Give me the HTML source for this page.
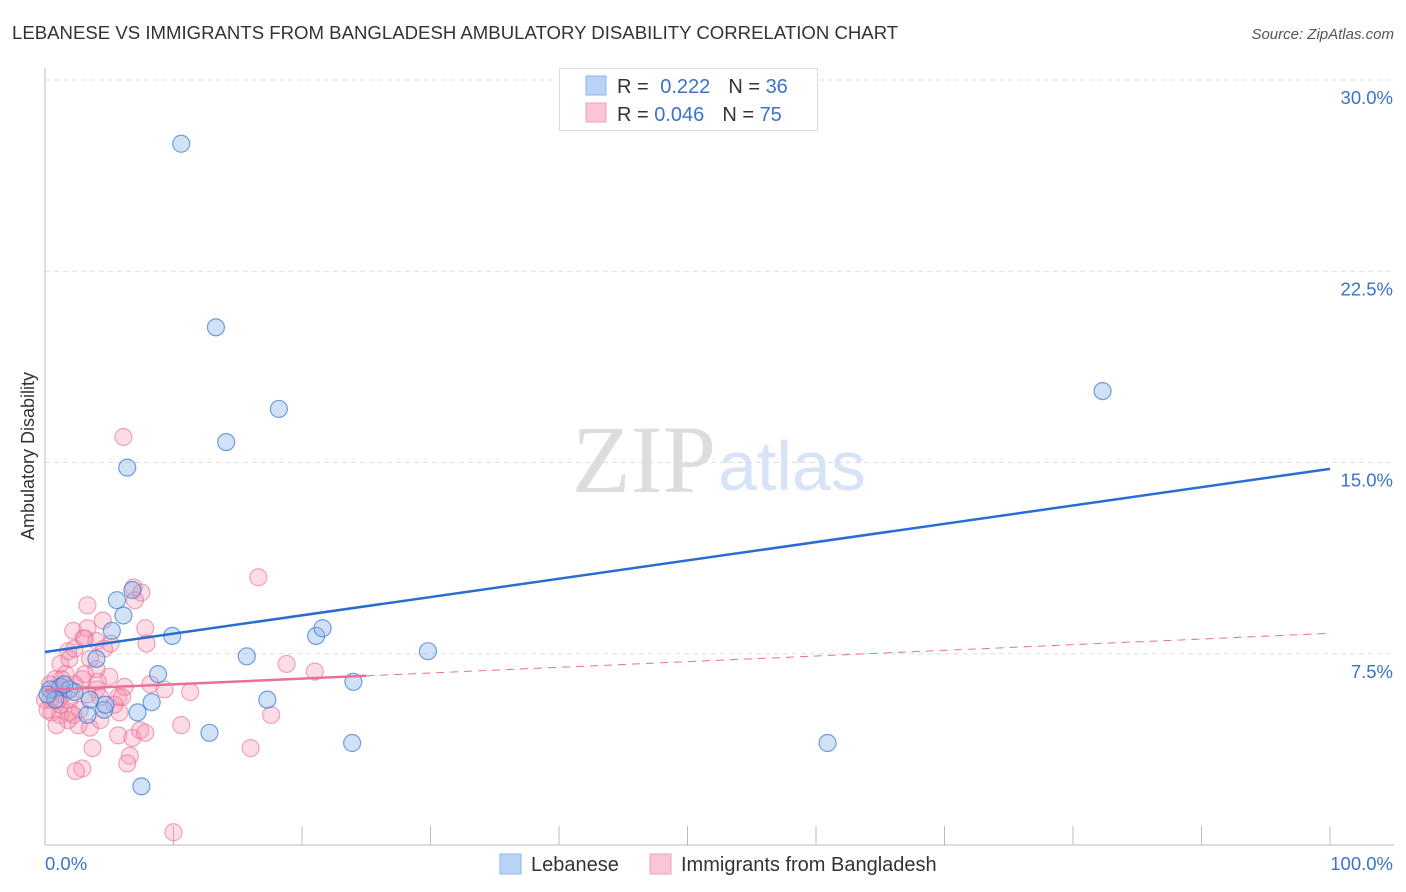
<!DOCTYPE html>
<html><head><meta charset="utf-8"><style>
body{margin:0;background:#fff;font-family:"Liberation Sans",sans-serif}
svg{display:block}
</style></head><body>
<svg id="chart" width="1406" height="892" xmlns="http://www.w3.org/2000/svg">
<text x="12" y="39" font-size="18.6" fill="#333">LEBANESE VS IMMIGRANTS FROM BANGLADESH AMBULATORY DISABILITY CORRELATION CHART</text>
<text x="1394" y="39" font-size="15" fill="#555" font-style="italic" text-anchor="end">Source: ZipAtlas.com</text>
<text x="716" y="492" font-size="96" fill="#ddd" text-anchor="end" font-family="Liberation Serif,serif">ZIP</text>
<text x="718" y="490" font-size="70" fill="#d6e4f5">atlas</text>
<g id="grid"></g>
<g id="axes"></g>
<g id="pts"></g>
<g id="lines"></g>
<text transform="translate(34,456) rotate(-90)" font-size="18" fill="#333" text-anchor="middle">Ambulatory Disability</text>
<g>
<rect x="559.5" y="68.5" width="258" height="62" fill="#fff" stroke="#ddd"/>
<rect x="586" y="76" width="20" height="19" fill="#b8d3f5" stroke="#8fb6e8"/>
<rect x="586" y="103" width="20" height="19" fill="#fac6d5" stroke="#f0a3b8"/>
<text x="617" y="93" font-size="20" fill="#333">R = <tspan fill="#3b73c9" dx="6">0.222</tspan><tspan dx="18" fill="#333">N = </tspan><tspan fill="#3b73c9">36</tspan></text>
<text x="617" y="121" font-size="20" fill="#333">R = <tspan fill="#3b73c9">0.046</tspan><tspan dx="18" fill="#333">N = </tspan><tspan fill="#3b73c9">75</tspan></text>
</g>
<g>
<rect x="500" y="854" width="21" height="20" fill="#b8d3f5" stroke="#8fb6e8"/>
<text x="531" y="871" font-size="20" fill="#333">Lebanese</text>
<rect x="650" y="854" width="21" height="20" fill="#fac6d5" stroke="#f0a3b8"/>
<text x="681" y="871" font-size="20" fill="#333">Immigrants from Bangladesh</text>
</g>
</svg>
<script>
const yTicks=[7.5,15,22.5,30];
const yTickLabels=["7.5%","15.0%","22.5%","30.0%"];
const xTicks=[0,10,20,30,40,50,60,70,80,90,100];
const lebX=[10.6,13.3,18.2,14.1,6.4,82.3,6.8,5.6,6.1,5.2,9.9,21.1,21.6,4.0,8.8,15.7,29.8,24.0,17.3,8.3,7.2,4.6,3.3,1.2,0.4,1.9,12.8,23.9,60.9,7.5,2.3,3.5,0.8,1.5,0.2,4.7];
const lebY=[27.5,20.3,17.1,15.8,14.8,17.8,10.0,9.6,9.0,8.4,8.2,8.2,8.5,7.3,6.7,7.4,7.6,6.4,5.7,5.6,5.2,5.3,5.1,6.2,6.1,6.1,4.4,4.0,4.0,2.3,6.0,5.7,5.7,6.3,5.9,5.5];
const banX=[6.1,16.6,6.9,7.5,3.3,4.5,7.8,2.2,3.3,3.0,4.0,4.6,1.8,1.2,1.9,18.8,21.0,0.8,2.9,2.3,4.0,8.2,9.3,11.3,6.2,5.7,4.3,1.4,0.4,0.5,1.2,1.9,2.6,1.8,3.5,5.8,10.6,17.6,5.7,6.8,3.7,6.6,6.4,16.0,2.9,2.4,10.0,7.9,5.0,3.1,1.2,0.0,0.8,1.6,3.5,1.9,2.7,5.4,4.3,0.2,1.0,4.1,3.3,7.4,1.3,4.0,2.3,5.1,7.8,0.4,7.0,3.1,2.2,0.9,6.0];
const banY=[16.0,10.5,10.1,9.9,9.4,8.8,8.5,8.4,8.5,8.1,8.0,7.7,7.6,7.1,7.3,7.1,6.8,6.5,6.5,6.3,6.1,6.3,6.1,6.0,6.2,5.8,5.8,5.9,5.7,5.2,5.1,5.2,4.7,4.9,4.6,5.2,4.7,5.1,4.3,4.2,3.8,3.5,3.2,3.8,3.0,2.9,0.5,7.9,6.6,6.7,5.5,5.7,6.1,6.7,7.3,5.7,5.3,5.5,4.9,5.3,5.7,6.4,5.9,4.5,6.5,6.9,7.7,7.9,4.4,6.3,9.6,8.1,5.1,4.7,5.8];
const blueLine=[7.57,14.75];
const pinkLine=[6.08,8.3];
const pinkSolidEnd=25;
const NS="http://www.w3.org/2000/svg";
const X0=45,X1=1330,Y0=845,YP=25.5;
const sx=v=>X0+(X1-X0)*v/100;
const sy=v=>Y0-v*YP;
function mk(tag,attrs,parent){const e=document.createElementNS(NS,tag);for(const k in attrs)e.setAttribute(k,attrs[k]);document.getElementById(parent).appendChild(e);return e;}
yTicks.forEach((t,i)=>{
 const g=mk('line',{x1:X0,x2:1394,y1:sy(t),y2:sy(t),stroke:'#ddd','stroke-dasharray':'5,4'},'grid');
 
 
 const l=mk('text',{x:1393,y:sy(t)+24,'font-size':18.5,fill:'#3b73c9','text-anchor':'end'},'grid');
 l.textContent=yTickLabels[i];
 
 
});
const ax=mk('line',{x1:X0,x2:X0,y1:68,y2:Y0,stroke:'#bbb'},'axes');


const bx=mk('line',{x1:X0,x2:1394,y1:Y0,y2:Y0,stroke:'#bbb'},'axes');


xTicks.forEach(t=>{const e=mk('line',{x1:sx(t),x2:sx(t),y1:826,y2:Y0,stroke:'#bbb'},'axes');
 
 });
const xl0=mk('text',{x:45,y:870,'font-size':18.5,fill:'#3b73c9'},'axes');xl0.textContent='0.0%';


const xl1=mk('text',{x:1393,y:870,'font-size':18.5,fill:'#3b73c9','text-anchor':'end'},'axes');xl1.textContent='100.0%';


banX.forEach((x,i)=>{const c=mk('circle',{cx:sx(x),cy:sy(banY[i]),r:8.5,fill:'rgba(244,143,172,0.3)',stroke:'rgba(232,110,148,0.6)','stroke-width':1.2},'pts');
 
 });
lebX.forEach((x,i)=>{const c=mk('circle',{cx:sx(x),cy:sy(lebY[i]),r:8.5,fill:'rgba(140,182,236,0.4)',stroke:'rgba(60,120,210,0.7)','stroke-width':1.2},'pts');
 
 });
const bl=mk('line',{x1:sx(0),y1:sy(blueLine[0]),x2:sx(100),y2:sy(blueLine[1]),stroke:'#2a6dd2','stroke-width':2.5},'lines');


const pe=pinkLine[0]+(pinkLine[1]-pinkLine[0])*pinkSolidEnd/100;
const pl=mk('line',{x1:sx(0),y1:sy(pinkLine[0]),x2:sx(pinkSolidEnd),y2:sy(pe),stroke:'#e8709a','stroke-width':2.5},'lines');


const pd=mk('line',{x1:sx(pinkSolidEnd),y1:sy(pe),x2:sx(100),y2:sy(pinkLine[1]),stroke:'#e8709a','stroke-width':1,'stroke-dasharray':'8,6'},'lines');


</script>
</body></html>
